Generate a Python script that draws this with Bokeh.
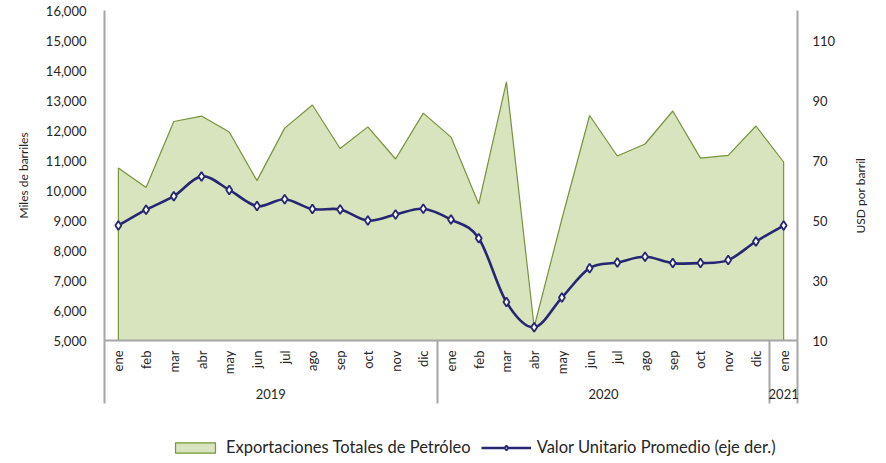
import math
from bokeh.plotting import figure
from bokeh.layouts import column
from bokeh.models import (Range1d, LinearAxis, FixedTicker, NumeralTickFormatter,
                          Legend, LegendItem)
from bokeh.embed import file_html
from bokeh.resources import INLINE

# ---------------- data ----------------
months = ["ene", "feb", "mar", "abr", "may", "jun", "jul", "ago", "sep", "oct", "nov", "dic",
          "ene", "feb", "mar", "abr", "may", "jun", "jul", "ago", "sep", "oct", "nov", "dic",
          "ene"]
years = ["2019", "2020", "2021"]
year_counts = [12, 12, 1]
exports = [10750, 10100, 12300, 12480, 11950, 10330, 12080, 12850, 11400, 12120, 11050, 12580,
           11780, 9550, 13620, 5450, 9050, 12500, 11150, 11550, 12650, 11080, 11170, 12150,
           10950]
price = [48.3, 53.6, 58.1, 64.7, 60.2, 54.8, 57.1, 53.8, 53.7, 50.0, 52.0, 53.9,
         50.3, 44.1, 22.8, 14.4, 24.3, 34.1, 36.0, 37.9, 35.8, 35.8, 36.8, 43.0,
         48.3]
left_ticks = [5000, 6000, 7000, 8000, 9000, 10000, 11000, 12000, 13000, 14000, 15000, 16000]
right_ticks = [10, 30, 50, 70, 90, 110]
area_label = "Exportaciones Totales de Petróleo"
line_label = "Valor Unitario Promedio (eje der.)"
left_title = "Miles de barriles"
right_title = "USD por barril"

# ---------------- styles ----------------
FONT = "Lato"
AXIS_GRAY = "#a6a6a6"
TXT = "#262626"
FILL = "#d7e4bd"
EDGE = "#77933c"
NAVY = "#262673"

xs = list(range(len(months)))
base = left_ticks[0]

p = figure(width=886, height=425, output_backend="svg", toolbar_location=None,
           x_range=Range1d(-0.5, len(months) - 0.5),
           y_range=Range1d(left_ticks[0], left_ticks[-1]),
           x_axis_location=None,
           min_border_left=104, min_border_right=89, min_border_top=10, min_border_bottom=85)
p.grid.grid_line_color = None
p.outline_line_color = None
p.extra_y_ranges = {"usd": Range1d(10, 120)}

# left / right value axes
ya = p.yaxis[0]
ya.ticker = FixedTicker(ticks=left_ticks)
ya.formatter = NumeralTickFormatter(format="0,0")
ya.axis_label = left_title
ya.axis_label_standoff = 12
ya.axis_label_text_font = FONT
ya.axis_label_text_font_size = "12px"
ya.axis_label_text_font_style = "normal"
ya.axis_label_text_color = TXT

ra = LinearAxis(y_range_name="usd", ticker=FixedTicker(ticks=right_ticks))
p.add_layout(ra, "right")

for ax, st in ((ya, 18), (ra, 15)):
    ax.axis_line_color = AXIS_GRAY
    ax.axis_line_width = 2
    ax.major_tick_line_color = None
    ax.minor_tick_line_color = None
    ax.major_tick_out = 0
    ax.major_tick_in = 0
    ax.major_label_standoff = st
    ax.major_label_text_font = FONT
    ax.major_label_text_font_size = "13px"
    ax.major_label_text_color = TXT

# right-hand title, reading upwards like the left one (starts at USD 45.7 on the right scale)
title_at = 45.67
rt_ax = LinearAxis(y_range_name="usd", ticker=FixedTicker(ticks=[title_at], minor_ticks=[]),
                   major_label_overrides={title_at: right_title})
rt_ax.major_label_orientation = math.pi / 2
rt_ax.axis_line_color = None
rt_ax.major_tick_line_color = None
rt_ax.minor_tick_line_color = None
rt_ax.major_tick_out = 0
rt_ax.major_tick_in = 0
rt_ax.major_label_standoff = 22
rt_ax.major_label_text_font = FONT
rt_ax.major_label_text_font_size = "12px"
rt_ax.major_label_text_color = TXT
p.add_layout(rt_ax, "right")

# category axes: months (group separators drawn as long minor ticks) and years
bounds = [-0.5]
for c in year_counts:
    bounds.append(bounds[-1] + c)
centers = [(bounds[i] + bounds[i + 1]) / 2 for i in range(len(years))]

mon_ax = LinearAxis(ticker=FixedTicker(ticks=xs, minor_ticks=bounds),
                    major_label_overrides={i: m for i, m in zip(xs, months)})
mon_ax.major_label_orientation = math.pi / 2
mon_ax.axis_line_color = AXIS_GRAY
mon_ax.axis_line_width = 2
mon_ax.major_tick_line_color = None
mon_ax.major_tick_out = 0
mon_ax.major_tick_in = 0
mon_ax.minor_tick_line_color = AXIS_GRAY
mon_ax.minor_tick_line_width = 2
mon_ax.minor_tick_out = 0
mon_ax.minor_tick_in = -63
mon_ax.major_label_standoff = 10
mon_ax.major_label_text_font = FONT
mon_ax.major_label_text_font_size = "13px"
mon_ax.major_label_text_color = TXT
p.add_layout(mon_ax, "below")

yr_ax = LinearAxis(ticker=FixedTicker(ticks=centers, minor_ticks=[]),
                   major_label_overrides={c: y for c, y in zip(centers, years)})
yr_ax.axis_line_color = None
yr_ax.major_tick_line_color = None
yr_ax.minor_tick_line_color = None
yr_ax.major_tick_out = 0
yr_ax.major_tick_in = 0
yr_ax.major_label_standoff = 11
yr_ax.major_label_text_font = FONT
yr_ax.major_label_text_font_size = "13px"
yr_ax.major_label_text_color = TXT
p.add_layout(yr_ax, "below")

# area
area_x = [xs[0]] + xs + [xs[-1]]
area_y = [base] + exports + [base]
area_style = dict(fill_color=FILL, line_color=EDGE, line_width=1.2)
area = p.patch(area_x, area_y, **area_style)

# smoothed line (Catmull-Rom through the data points, drawn as Bezier segments)
n = len(price)
x0, y0, x1, y1, cx0, cy0, cx1, cy1 = [], [], [], [], [], [], [], []
for i in range(n - 1):
    pa = max(i - 1, 0)
    pd = min(i + 2, n - 1)
    x0.append(xs[i]); y0.append(price[i])
    x1.append(xs[i + 1]); y1.append(price[i + 1])
    cx0.append(xs[i] + (xs[i + 1] - xs[pa]) / 6)
    cy0.append(price[i] + (price[i + 1] - price[pa]) / 6)
    cx1.append(xs[i + 1] - (xs[pd] - xs[i]) / 6)
    cy1.append(price[i + 1] - (price[pd] - price[i]) / 6)
bez_style = dict(line_color=NAVY, line_width=2.6)
sc_style = dict(marker="diamond", size=9, fill_color="white", line_color=NAVY, line_width=1.8)
bez = p.bezier(x0=x0, y0=y0, x1=x1, y1=y1, cx0=cx0, cy0=cy0, cx1=cx1, cy1=cy1,
               y_range_name="usd", **bez_style)
sc = p.scatter(xs, price, y_range_name="usd", **sc_style)

# ---------------- legend strip (separate figure under the chart) ----------------
lg = figure(width=886, height=38, output_backend="svg", toolbar_location=None,
            x_range=Range1d(1000, 1001), y_range=Range1d(1000, 1001),
            x_axis_location=None, y_axis_location=None,
            min_border_left=0, min_border_right=0, min_border_top=0, min_border_bottom=0)
lg.grid.grid_line_color = None
lg.outline_line_color = None
# same series drawn with the same styles; they fall outside this strip's ranges,
# so only their legend entries are visible
l_area = lg.patch(area_x, area_y, **area_style)
l_bez = lg.bezier(x0=x0, y0=y0, x1=x1, y1=y1, cx0=cx0, cy0=cy0, cx1=cx1, cy1=cy1, **bez_style)
l_sc = lg.scatter(xs, price, **sc_style)

legend = Legend(items=[LegendItem(label=area_label, renderers=[l_area]),
                       LegendItem(label=line_label, renderers=[l_bez, l_sc])],
                orientation="horizontal", location=(66, 6),
                glyph_width=50, glyph_height=13, label_height=17, spacing=10,
                label_standoff=6, padding=0, margin=0,
                border_line_color=None, background_fill_alpha=0,
                label_text_font=FONT, label_text_font_size="16.5px",
                label_text_color=TXT)
lg.add_layout(legend)

layout = column(p, lg, spacing=0)
open("out.html", "w").write(file_html(layout, INLINE))
